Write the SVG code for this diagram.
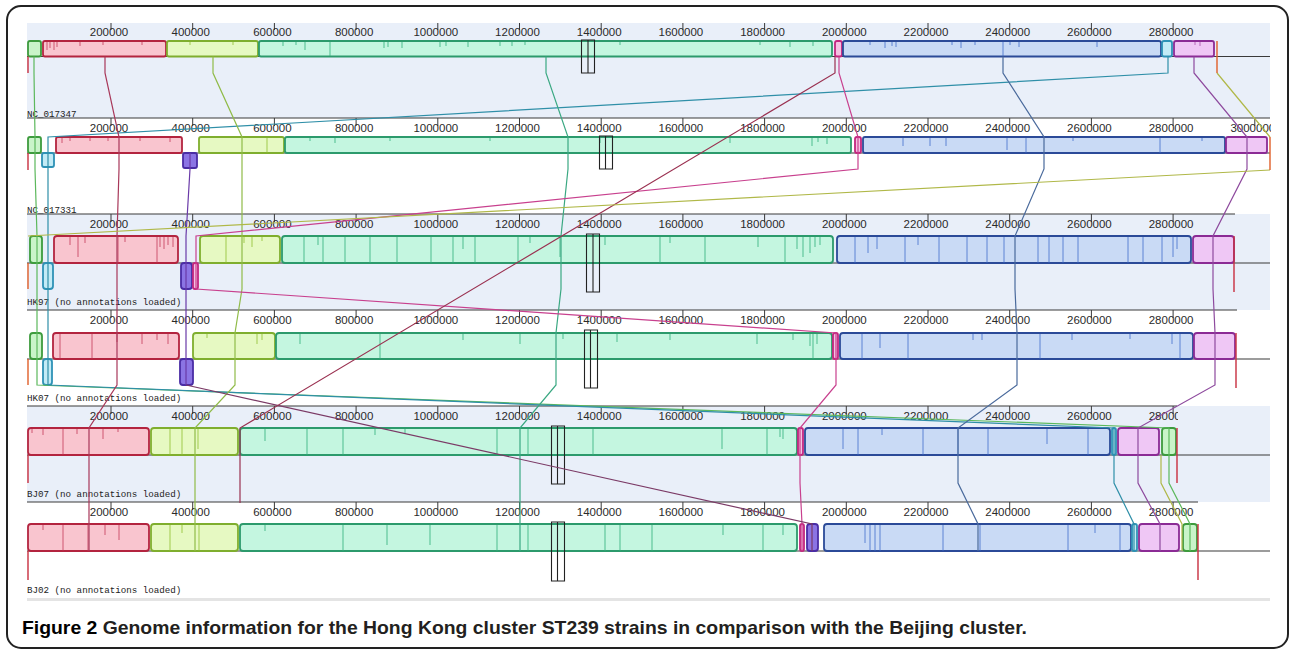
<svg xmlns="http://www.w3.org/2000/svg" width="1289" height="649" viewBox="0 0 1289 649">
<style>
.band{fill:#e9eff9}
.ax{stroke:#3a3a3a;stroke-width:1.2;fill:none}
.tk{stroke:#3a3a3a;stroke-width:1;fill:none}
.tl{font-family:"Liberation Sans",Arial,sans-serif;font-size:11.5px;fill:#2a2a2a;text-anchor:middle}
.nm{font-family:"Liberation Mono","DejaVu Sans Mono",monospace;font-size:9.2px;fill:#222}
.blk{stroke-width:1.8}
.g{fill:#c9f4c9;stroke:#3d9b3d}
.r{fill:#f9c5cf;stroke:#b3243f}
.y{fill:#e6f9c2;stroke:#7fae2e}
.m{fill:#c4f6e0;stroke:#2c9a6c}
.mg{fill:#f5c0e2;stroke:#c3267f}
.b{fill:#c9daf5;stroke:#2b4a98}
.c{fill:#c3ebf6;stroke:#2e92b6}
.v{fill:#8b74e4;stroke:#4a2da5}
.l{fill:#efc7f5;stroke:#8b2b95}
.pr{stroke:#c03050;stroke-width:1;opacity:.75;fill:none}
.py{stroke:#8fbf30;stroke-width:1;opacity:.8;fill:none}
.pm{stroke:#30b07a;stroke-width:1;opacity:.8;fill:none}
.pb{stroke:#3a66c8;stroke-width:1;opacity:.75;fill:none}
.pl{stroke:#a040a0;stroke-width:1;opacity:.7;fill:none}
.box{fill:none;stroke:#222;stroke-width:1.1}
.cn{fill:none;stroke-width:1.2}
.st{fill:none;stroke-width:1.4}
.cap{font-family:"Liberation Sans",Arial,sans-serif;font-weight:bold;font-size:19px;fill:#231f20}
</style>
<defs>
<clipPath id="clip2"><rect x="0" y="100" width="1271" height="40"/></clipPath>
<clipPath id="clip5"><rect x="0" y="400" width="1178" height="30"/></clipPath>
</defs>
<rect x="0" y="0" width="1289" height="649" fill="#ffffff"/>
<rect x="7" y="6" width="1281" height="642" rx="14" fill="none" stroke="#222" stroke-width="2"/>

<!-- Row 1 -->
<g id="row-NC_017347">
<rect class="band" x="27" y="23" width="1243" height="95"/>
<path class="tk" d="M111,23v7M192.7,23v7M274.4,23v7M356.1,23v7M437.8,23v7M519.5,23v7M601.2,23v7M682.9,23v7M764.6,23v7M846.3,23v7M928,23v7M1009.7,23v7M1091.4,23v7M1173.1,23v7"/>
<g class="tl">
<text x="109" y="35.5">200000</text><text x="190.7" y="35.5">400000</text><text x="272.4" y="35.5">600000</text><text x="354.1" y="35.5">800000</text><text x="435.8" y="35.5">1000000</text><text x="517.5" y="35.5">1200000</text><text x="599.2" y="35.5">1400000</text><text x="680.9" y="35.5">1600000</text><text x="762.6" y="35.5">1800000</text><text x="844.3" y="35.5">2000000</text><text x="926" y="35.5">2200000</text><text x="1007.7" y="35.5">2400000</text><text x="1089.4" y="35.5">2600000</text><text x="1171.1" y="35.5">2800000</text>
</g>
<line class="ax" x1="27" y1="56.5" x2="1270" y2="56.5"/>
<rect class="blk g" x="28" y="41" width="13" height="15.5" rx="2"/>
<rect class="blk r" x="43" y="41" width="123" height="15.5" rx="2"/>
<rect class="blk y" x="167" y="41" width="91" height="15.5" rx="2"/>
<rect class="blk m" x="259" y="41" width="573" height="15.5" rx="2"/>
<rect class="blk mg" x="835" y="41" width="7" height="15.5" rx="2"/>
<rect class="blk b" x="843" y="41" width="318" height="15.5" rx="2"/>
<rect class="blk c" x="1162" y="41" width="10" height="15.5" rx="2"/>
<rect class="blk l" x="1174" y="41" width="40" height="15.5" rx="2"/>
<path class="pr" d="M47,42v8M50,42v6M54,42v8M57,42v5M80,42v4M103,42v3M142,42v3"/>
<path class="py" d="M190,42v3M233,42v3"/>
<path class="pm" d="M283,42v4M296,42v3M305,42v8M330,42v14M384,42v6M388,42v5M402,42v6M440,42v5M446,42v4M468,42v5M500,42v4M512,42v4M525,42v3M620,42v3M760,42v3M790,42v5M813,42v4"/>
<path class="pb" d="M870,42v3M885,42v6M892,42v4M896,42v5M952,42v3M961,42v6M975,42v3M1003,42v14M1010,42v3M1019,42v5M1097,42v5"/>
<path class="pl" d="M1195,42v3M1200,42v4"/>
<path class="box" d="M581.5,40h13v33h-13zM588,40v33"/>
<text class="nm" x="27" y="117">NC_017347</text>
</g>

<!-- Row 2 -->
<g id="row-NC_017331">
<line class="ax" x1="27" y1="118" x2="1270" y2="118"/>
<path class="tk" d="M111,118v8M192.7,118v8M274.4,118v8M356.1,118v8M437.8,118v8M519.5,118v8M601.2,118v8M682.9,118v8M764.6,118v8M846.3,118v8M928,118v8M1009.7,118v8M1091.4,118v8M1173.1,118v8M1254.8,118v8"/>
<g class="tl" clip-path="url(#clip2)">
<text x="109" y="132">200000</text><text x="190.7" y="132">400000</text><text x="272.4" y="132">600000</text><text x="354.1" y="132">800000</text><text x="435.8" y="132">1000000</text><text x="517.5" y="132">1200000</text><text x="599.2" y="132">1400000</text><text x="680.9" y="132">1600000</text><text x="762.6" y="132">1800000</text><text x="844.3" y="132">2000000</text><text x="926" y="132">2200000</text><text x="1007.7" y="132">2400000</text><text x="1089.4" y="132">2600000</text><text x="1171.1" y="132">2800000</text><text x="1252.8" y="132">3000000</text>
</g>
<line class="ax" x1="27" y1="153" x2="1270" y2="153"/>
<rect class="blk g" x="28" y="137" width="13" height="16" rx="2"/>
<rect class="blk r" x="56" y="137" width="126" height="16" rx="2"/>
<rect class="blk y" x="199" y="137" width="85" height="16" rx="2"/>
<rect class="blk m" x="285" y="137" width="566" height="16" rx="2"/>
<rect class="blk mg" x="855" y="137" width="6" height="16" rx="2"/>
<rect class="blk b" x="863" y="137" width="362" height="16" rx="2"/>
<rect class="blk l" x="1226" y="137" width="41" height="16" rx="2"/>
<rect class="blk c" x="42" y="153" width="12" height="14" rx="2"/>
<rect class="blk v" x="183" y="153" width="14" height="15" rx="2"/>
<path class="pr" d="M62,138v5M70,138v3M90,138v3M108,138v3M140,138v3M170,138v4"/>
<path class="py" d="M267,138v15"/>
<path class="pm" d="M310,138v3M335,138v5M390,138v3M490,138v3M600,138v5M730,138v5M812,138v8M818,138v4M827,138v6"/>
<path class="pb" d="M903,138v8M930,138v8M946,138v8M1007,138v12M1026,138v15M1073,138v3M1160,138v15M1202,138v3"/>
<path class="box" d="M599.5,136h13v33h-13zM605.5,136v33"/>
<text class="nm" x="27" y="213">NC_017331</text>
</g>

<!-- Row 3 -->
<g id="row-HK97">
<rect class="band" x="27" y="214" width="1243" height="96"/>
<line class="ax" x1="27" y1="214" x2="1235" y2="214"/>
<path class="tk" d="M111,214v8M192.7,214v8M274.4,214v8M356.1,214v8M437.8,214v8M519.5,214v8M601.2,214v8M682.9,214v8M764.6,214v8M846.3,214v8M928,214v8M1009.7,214v8M1091.4,214v8M1173.1,214v8"/>
<g class="tl">
<text x="109" y="228">200000</text><text x="190.7" y="228">400000</text><text x="272.4" y="228">600000</text><text x="354.1" y="228">800000</text><text x="435.8" y="228">1000000</text><text x="517.5" y="228">1200000</text><text x="599.2" y="228">1400000</text><text x="680.9" y="228">1600000</text><text x="762.6" y="228">1800000</text><text x="844.3" y="228">2000000</text><text x="926" y="228">2200000</text><text x="1007.7" y="228">2400000</text><text x="1089.4" y="228">2600000</text><text x="1171.1" y="228">2800000</text>
</g>
<line class="ax" x1="27" y1="263" x2="1270" y2="263"/>
<rect class="blk g" x="30" y="236" width="12" height="27" rx="3"/>
<rect class="blk r" x="54" y="236" width="124" height="27" rx="3"/>
<rect class="blk y" x="200" y="236" width="80" height="27" rx="3"/>
<rect class="blk m" x="282" y="236" width="551" height="27" rx="3"/>
<rect class="blk b" x="837" y="236" width="354" height="27" rx="3"/>
<rect class="blk l" x="1193" y="236" width="41" height="27" rx="3"/>
<rect class="blk c" x="43" y="263" width="10" height="26" rx="3"/>
<rect class="blk v" x="181" y="263" width="11" height="26" rx="3"/>
<rect class="blk mg" x="193" y="263" width="5" height="26" rx="2"/>
<path class="pr" d="M70,237v8M78,237v20M85,237v6M118,237v26M125,237v5M157,237v26M160,237v10M164,237v12M168,237v8M173,237v10"/>
<path class="py" d="M226,237v26M244,237v6M252,237v10M262,237v4"/>
<path class="pm" d="M304,237v26M318,237v8M323,237v26M345,237v26M370,237v26M397,237v26M431,237v26M453,237v26M463,237v12M475,237v26M518,237v26M530,237v6M560,237v20M605,237v8M660,237v26M670,237v6M705,237v26M758,237v10M785,237v26M797,237v12M803,237v20M810,237v16M815,237v10M820,237v8"/>
<path class="pb" d="M855,237v26M868,237v16M877,237v12M905,237v26M918,237v8M939,237v26M967,237v26M987,237v26M1004,237v26M1038,237v26M1049,237v26M1063,237v26M1078,237v26M1128,237v26M1143,237v26M1162,237v26M1173,237v20M1177,237v12"/>
<path class="box" d="M586.5,234h13v58h-13zM593,234v58"/>
<text class="nm" x="27" y="305">HK97 (no annotations loaded)</text>
</g>

<!-- Row 4 -->
<g id="row-HK07">
<line class="ax" x1="27" y1="310" x2="1237" y2="310"/>
<path class="tk" d="M111,310v8M192.7,310v8M274.4,310v8M356.1,310v8M437.8,310v8M519.5,310v8M601.2,310v8M682.9,310v8M764.6,310v8M846.3,310v8M928,310v8M1009.7,310v8M1091.4,310v8M1173.1,310v8"/>
<g class="tl">
<text x="109" y="324">200000</text><text x="190.7" y="324">400000</text><text x="272.4" y="324">600000</text><text x="354.1" y="324">800000</text><text x="435.8" y="324">1000000</text><text x="517.5" y="324">1200000</text><text x="599.2" y="324">1400000</text><text x="680.9" y="324">1600000</text><text x="762.6" y="324">1800000</text><text x="844.3" y="324">2000000</text><text x="926" y="324">2200000</text><text x="1007.7" y="324">2400000</text><text x="1089.4" y="324">2600000</text><text x="1171.1" y="324">2800000</text>
</g>
<line class="ax" x1="27" y1="359" x2="1270" y2="359"/>
<rect class="blk g" x="30" y="333" width="12" height="26" rx="3"/>
<rect class="blk r" x="53" y="333" width="126" height="26" rx="3"/>
<rect class="blk y" x="193" y="333" width="82" height="26" rx="3"/>
<rect class="blk m" x="276" y="333" width="556" height="26" rx="3"/>
<rect class="blk mg" x="833" y="333" width="5" height="26" rx="2"/>
<rect class="blk b" x="840" y="333" width="353" height="26" rx="3"/>
<rect class="blk l" x="1194" y="333" width="41" height="26" rx="3"/>
<rect class="blk c" x="43" y="359" width="9" height="26" rx="3"/>
<rect class="blk v" x="180" y="359" width="13" height="26" rx="3"/>
<path class="pr" d="M60,334v25M92,334v25M117,334v8M142,334v10M157,334v6M168,334v10"/>
<path class="py" d="M207,334v4M257,334v10M262,334v6"/>
<path class="pm" d="M300,334v10M380,334v25M463,334v6M520,334v10M563,334v5M617,334v8M670,334v6M757,334v10M793,334v6M810,334v12M813,334v25M817,334v10"/>
<path class="pb" d="M862,334v25M880,334v14M908,334v25M973,334v6M982,334v6M1040,334v25M1072,334v6M1130,334v5M1172,334v10M1180,334v25"/>
<path class="box" d="M584.5,330h13v58h-13zM590.5,330v58"/>
<text class="nm" x="27" y="401">HK07 (no annotations loaded)</text>
</g>

<!-- Row 5 -->
<g id="row-BJ07">
<rect class="band" x="27" y="406" width="1243" height="96"/>
<line class="ax" x1="27" y1="406" x2="1177" y2="406"/>
<path class="tk" d="M111,406v8M192.7,406v8M274.4,406v8M356.1,406v8M437.8,406v8M519.5,406v8M601.2,406v8M682.9,406v8M764.6,406v8M846.3,406v8M928,406v8M1009.7,406v8M1091.4,406v8M1173.1,406v8"/>
<g class="tl" clip-path="url(#clip5)">
<text x="109" y="420">200000</text><text x="190.7" y="420">400000</text><text x="272.4" y="420">600000</text><text x="354.1" y="420">800000</text><text x="435.8" y="420">1000000</text><text x="517.5" y="420">1200000</text><text x="599.2" y="420">1400000</text><text x="680.9" y="420">1600000</text><text x="762.6" y="420">1800000</text><text x="844.3" y="420">2000000</text><text x="926" y="420">2200000</text><text x="1007.7" y="420">2400000</text><text x="1089.4" y="420">2600000</text><text x="1171.1" y="420">2800000</text>
</g>
<line class="ax" x1="27" y1="455" x2="1270" y2="455"/>
<rect class="blk r" x="28" y="428" width="121" height="27" rx="3"/>
<rect class="blk y" x="151" y="428" width="87" height="27" rx="3"/>
<rect class="blk m" x="240" y="428" width="557" height="27" rx="3"/>
<rect class="blk mg" x="798" y="428" width="5" height="27" rx="2"/>
<rect class="blk b" x="805" y="428" width="305" height="27" rx="3"/>
<rect class="blk c" x="1112" y="428" width="4" height="27" rx="2"/>
<rect class="blk l" x="1118" y="428" width="41" height="27" rx="3"/>
<rect class="blk g" x="1162" y="428" width="14" height="27" rx="3"/>
<path class="pr" d="M32,429v4M43,429v6M63,429v26M77,429v5M103,429v10M118,429v3"/>
<path class="py" d="M170,429v26M182,429v26M198,429v20"/>
<path class="pm" d="M265,429v12M307,429v26M343,429v26M375,429v6M405,429v5M497,429v26M528,429v26M593,429v26M722,429v20M767,429v26M780,429v8M783,429v10"/>
<path class="pb" d="M843,429v20M858,429v26M882,429v6M923,429v26M958,429v26M988,429v26M1047,429v15M1088,429v26"/>
<path class="box" d="M551.5,426h13v58h-13zM557.5,426v58"/>
<text class="nm" x="27" y="497">BJ07 (no annotations loaded)</text>
</g>

<!-- Row 6 -->
<g id="row-BJ02">
<line class="ax" x1="27" y1="502" x2="1198" y2="502"/>
<path class="tk" d="M111,502v8M192.7,502v8M274.4,502v8M356.1,502v8M437.8,502v8M519.5,502v8M601.2,502v8M682.9,502v8M764.6,502v8M846.3,502v8M928,502v8M1009.7,502v8M1091.4,502v8M1173.1,502v8"/>
<g class="tl">
<text x="109" y="516">200000</text><text x="190.7" y="516">400000</text><text x="272.4" y="516">600000</text><text x="354.1" y="516">800000</text><text x="435.8" y="516">1000000</text><text x="517.5" y="516">1200000</text><text x="599.2" y="516">1400000</text><text x="680.9" y="516">1600000</text><text x="762.6" y="516">1800000</text><text x="844.3" y="516">2000000</text><text x="926" y="516">2200000</text><text x="1007.7" y="516">2400000</text><text x="1089.4" y="516">2600000</text><text x="1171.1" y="516">2800000</text>
</g>
<line class="ax" x1="27" y1="551" x2="1270" y2="551"/>
<rect class="blk r" x="28" y="524" width="121" height="27" rx="3"/>
<rect class="blk y" x="151" y="524" width="87" height="27" rx="3"/>
<rect class="blk m" x="240" y="524" width="557" height="27" rx="3"/>
<rect class="blk mg" x="800" y="524" width="4" height="27" rx="2"/>
<rect class="blk v" x="807" y="524" width="11" height="27" rx="3"/>
<rect class="blk b" x="824" y="524" width="307" height="27" rx="3"/>
<rect class="blk c" x="1132" y="524" width="5" height="27" rx="2"/>
<rect class="blk l" x="1139" y="524" width="40" height="27" rx="3"/>
<rect class="blk g" x="1183" y="524" width="14" height="27" rx="3"/>
<path class="pr" d="M43,525v5M63,525v26M88,525v26M105,525v10M119,525v15"/>
<path class="py" d="M170,525v26M182,525v8M199,525v26"/>
<path class="pm" d="M265,525v6M343,525v26M387,525v20M430,525v20M497,525v26M528,525v26M605,525v26M620,525v26M652,525v26M723,525v10M763,525v26M783,525v10"/>
<path class="pb" d="M865,525v18M870,525v26M875,525v26M880,525v26M943,525v26M980,525v26M1068,525v26M1095,525v8M1120,525v26"/>
<path class="box" d="M551.5,522h13v59h-13zM557.5,522v59"/>
<text class="nm" x="27" y="593">BJ02 (no annotations loaded)</text>
<line x1="27" y1="599.5" x2="1270" y2="599.5" stroke="#e4e4e4" stroke-width="3"/>
</g>

<!-- Connectors -->
<g id="connectors">
<path class="cn" stroke="#5cb85c" d="M34,56.5V73L35,137V169L37,236V289L37,333V385L1169,428V483L1190,524V551"/>
<path class="cn" stroke="#2f8fa8" d="M1168,56.5V73L48,137V169L48,236V289L48,333V385L1114,428V483L1134,524V551"/>
<path class="cn" stroke="#a8385a" d="M105,56.5V73L119,137V169L117,236V289L117,333V385L89,428V483L89,524V551"/>
<path class="cn" stroke="#90bb48" d="M213,56.5V73L242,137V169L242,236V289L235,333V385L195,428V483L195,524V551"/>
<path class="cn" stroke="#3aa882" d="M546,56.5V73L568,137V169L561,236V289L556,333V385L520,428V483L520,524V551"/>
<path class="cn" stroke="#4a6a9c" d="M1003,56.5V73L1044,137V169L1015,236V289L1017,333V385L958,428V483L978,524V551"/>
<path class="cn" stroke="#8e4a9e" d="M1194,56.5V73L1247,137V169L1213,236V289L1215,333V385L1138,428V483L1160,524V551"/>
<path class="cn" stroke="#c8408e" d="M839,56.5V73L858,137V169L196,236V289L836,333V385L800,428V483L802,524V551"/>
<path class="cn" stroke="#6a3aa8" d="M190,153V169L186,236V289L186,333V385"/>
<path class="cn" stroke="#7b3a66" d="M186,385L812,524V551"/>
<path class="cn" stroke="#9a3050" d="M835,56.5V73L240,428V503"/>
<path class="cn" stroke="#b0b848" d="M1217,73L1270,137M1270,170L28,236"/>
<path class="cn" stroke="#b0b848" d="M1161,455V483L1182,524V551"/>
<path class="st" stroke="#e0602a" d="M1217,41V73M1270,137V170M28,263V289M28,359V385"/>
<path class="st" stroke="#c83040" d="M28,56.5V73M28,153V170M28,455V483M28,551V580M1234,236V292M1236,333V388M1177,428V483M1198,524V580"/>
</g>

<text class="cap" x="22" y="634" textLength="1005" lengthAdjust="spacingAndGlyphs"><tspan fill="#000">Figure 2</tspan> Genome information for the Hong Kong cluster ST239 strains in comparison with the Beijing cluster.</text>
</svg>
